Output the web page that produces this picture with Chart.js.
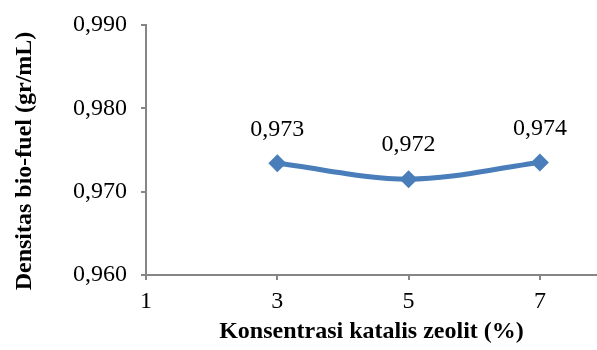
<!DOCTYPE html>
<html>
<head>
<meta charset="utf-8">
<script src="https://cdn.jsdelivr.net/npm/chart.js@4"></script>
<style>
  html, body { margin: 0; padding: 0; background: #fff; }
  #wrap { width: 597px; height: 350px; }
</style>
</head>
<body>
<div id="wrap"><canvas id="myChart"></canvas></div>
<script>
// data
const konsentrasi = [3, 5, 7];
const densitas = [0.9734, 0.9715, 0.9735];
const labelTitik = ['0,973', '0,972', '0,974'];
const xTicks = [1, 3, 5, 7];
const yTicks = [0.960, 0.970, 0.980, 0.990];
const judulY = 'Densitas bio-fuel (gr/mL)';
const judulX = 'Konsentrasi katalis zeolit (%)';

const biru = '#4a7ebb';
const abu = '#868686';
const serif = '"Liberation Serif", "Times New Roman", serif';

// labels above each point + the y title (a bit below centre, like the original)
const labelPlugin = {
	id: 'labelTitik',
	afterDatasetsDraw(chart) {
		const ctx = chart.ctx;
		const meta = chart.getDatasetMeta(0);
		ctx.save();
		ctx.font = '24px ' + serif;
		ctx.fillStyle = '#000';
		ctx.textAlign = 'center';
		ctx.textBaseline = 'middle';
		meta.data.forEach((pt, i) => {
			ctx.fillText(labelTitik[i], pt.x, pt.y - 34);
		});
		const area = chart.chartArea;
		ctx.translate(25, (area.top + area.bottom) / 2 + 11);
		ctx.rotate(-Math.PI / 2);
		ctx.font = 'bold 24px ' + serif;
		ctx.fillText(judulY, 0, 0);
		ctx.restore();
	}
};

const ctx = document.getElementById('myChart');

const myChart = new Chart(ctx, {
	type: 'line',
	data: {
		datasets: [{
			data: konsentrasi.map((k, i) => ({ x: k, y: densitas[i] })),
			borderColor: biru,
			backgroundColor: biru,
			borderWidth: 5,
			tension: 0.4,
			cubicInterpolationMode: 'monotone',
			pointStyle: 'rectRot',
			pointRadius: 9,
			pointHoverRadius: 9,
			pointBorderWidth: 0
		}]
	},
	options: {
		responsive: true,
		maintainAspectRatio: false,
		animation: false,
		layout: { autoPadding: false, padding: { top: 25, right: 0, left: 0, bottom: 0 } },
		plugins: {
			legend: { display: false },
			tooltip: { enabled: false }
		},
		scales: {
			x: {
				type: 'linear',
				min: 1,
				max: 7.87,
				afterBuildTicks(scale) {
					scale.ticks = xTicks.map(v => ({ value: v }));
				},
				afterFit(scale) { scale.height = 75; },
				grid: {
					display: true,
					drawOnChartArea: false,
					drawTicks: true,
					tickLength: 5,
					color: abu,
					lineWidth: 2
				},
				border: { color: abu, width: 2 },
				ticks: {
					color: '#000',
					font: { family: serif, size: 24 },
					padding: 7,
					maxRotation: 0
				},
				title: {
					display: true,
					text: judulX,
					color: '#000',
					font: { family: serif, size: 24, weight: 'bold' },
					padding: { top: 2 }
				}
			},
			y: {
				min: 0.960,
				max: 0.990,
				afterBuildTicks(scale) {
					scale.ticks = yTicks.map(v => ({ value: v }));
				},
				afterFit(scale) {
					scale.width = 146;
					scale.paddingTop = 0;
					scale.paddingBottom = 0;
				},
				grid: {
					display: true,
					drawOnChartArea: false,
					drawTicks: true,
					tickLength: 5,
					color: abu,
					lineWidth: 2
				},
				border: { color: abu, width: 2 },
				ticks: {
					color: '#000',
					font: { family: serif, size: 24 },
					padding: 14,
					callback: v => v.toFixed(3).replace('.', ',')
				}
			}
		}
	},
	plugins: [labelPlugin]
});
</script>
</body>
</html>
